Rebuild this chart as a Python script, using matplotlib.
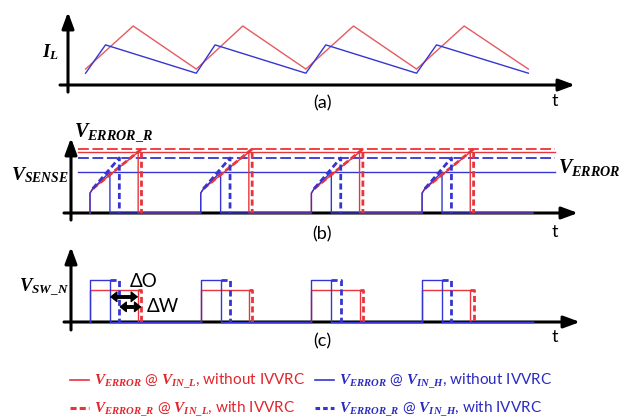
import numpy as np
import matplotlib.pyplot as plt
from matplotlib.lines import Line2D

plt.rcParams['font.family'] = ['Lato', 'DejaVu Sans']
plt.rcParams['mathtext.fontset'] = 'custom'
plt.rcParams['mathtext.it'] = 'Liberation Serif:italic:bold'
plt.rcParams['mathtext.rm'] = 'Liberation Serif:bold'
plt.rcParams['mathtext.bf'] = 'Liberation Serif:bold'

W, H = 632, 418
RED = '#e8343a'
BLUE = '#3535d2'
RED_TXT = '#e3262c'
BLUE_TXT = '#2b2bc0'

# =============================================================================
# WAVEFORM DATA (time normalised to one switching period)
# =============================================================================
PERIOD_ON = [0, 1, 2, 3]
NEXT_ON = 4.0
# turn-off delay after each turn-on
OFF_LOW = 0.435      # V_ERROR   @ V_IN_L
OFF_LOW_R = 0.465    # V_ERROR_R @ V_IN_L
OFF_HIGH = 0.18      # V_ERROR   @ V_IN_H
OFF_HIGH_R = 0.265   # V_ERROR_R @ V_IN_H

# (a) inductor current
IL_VALLEY_T = [-0.04, 0.96, 1.95, 2.95, 3.96]
IL_PEAK_T_LOW = [0.39, 1.38, 2.38, 3.38]
IL_PEAK_T_HIGH = [0.14, 1.13, 2.13, 3.13]
IL_LOW = [0.27, 1.0]     # valley, peak at V_IN_L
IL_HIGH = [0.20, 0.68]   # valley, peak at V_IN_H

# (b) current-sense ramp and error thresholds
SENSE_STEP = 0.31
SENSE_KNEE = [0.025, 0.38]
V_ERR_LOW = 0.95
V_ERR_LOW_R = 1.0
V_ERR_HIGH = 0.64
V_ERR_HIGH_R = 0.86

# (c) switch-node pulse heights
SW_HIGH = 1.0
SW_LOW = 0.76

# pixel layout helpers
T0_PX, PERIOD_PX = 90.0, 110.7


def t_px(x):
    return (x - T0_PX) / PERIOD_PX


def fig_xy(x, y):
    return x / W, 1 - y / H


def panel_axes(top, bottom, base, unit):
    ax = fig.add_axes([0, 1 - bottom / H, 1, (bottom - top) / H])
    ax.set_xlim(t_px(0), t_px(W))
    ax.set_ylim(-(bottom - base) / unit, (base - top) / unit)
    ax.axis('off')
    return ax


AX_ARROW = dict(arrowstyle='-|>,head_length=0.65,head_width=0.24', lw=2.2,
                color='black', mutation_scale=15, shrinkA=0, shrinkB=0)


def draw_frame(ax, x_axis, y_lo, y_hi, x_lo, x_hi):
    ax.annotate('', xy=(t_px(x_axis), y_hi), xytext=(t_px(x_axis), y_lo),
                arrowprops=AX_ARROW, zorder=1)
    ax.annotate('', xy=(t_px(x_hi), 0), xytext=(t_px(x_lo), 0),
                arrowprops=AX_ARROW, zorder=1)


def il_wave(valleys, peaks, lvl):
    t, y = [], []
    for v, p in zip(valleys, peaks):
        t += [v, p]
        y += [lvl[0], lvl[1]]
    t.append(valleys[-1])
    y.append(lvl[0])
    return t, y


def sense_wave(off, level):
    t, y = [], []
    for t0 in PERIOD_ON:
        t += [t0, t0, t0 + SENSE_KNEE[0], t0 + off, t0 + off]
        y += [0, SENSE_STEP, SENSE_KNEE[1], level, 0]
    t.append(NEXT_ON)
    y.append(0)
    return t, y


def sense_ramp(off, level):
    t, y = [], []
    for t0 in PERIOD_ON:
        t += [t0 + SENSE_KNEE[0], t0 + off, t0 + off, np.nan]
        y += [SENSE_KNEE[1], level, 0, np.nan]
    return t, y


def sw_wave(off, level):
    t, y = [], []
    for t0 in PERIOD_ON:
        t += [t0, t0, t0 + off, t0 + off]
        y += [0, level, level, 0]
    t.append(NEXT_ON)
    y.append(0)
    return t, y


def sw_extension(off, off_r, level):
    t, y = [], []
    for t0 in PERIOD_ON:
        t += [t0 + off, t0 + off_r, t0 + off_r, np.nan]
        y += [level, level, 0, np.nan]
    return t, y


fig = plt.figure(figsize=(W / 100, H / 100), dpi=100)

THIN = 1.0
THICK = 2.0
VDASH = (0, (2.2, 1.2))
HDASH = (0, (6, 2))

# ---- (a) inductor current ----
ax_a = panel_axes(0, 110, 85, 59)
draw_frame(ax_a, 68, -0.12, (85 - 12) / 59, 60, 575)
ax_a.plot(*il_wave(IL_VALLEY_T, IL_PEAK_T_LOW, IL_LOW), color='#e65a60', lw=THIN)
ax_a.plot(*il_wave(IL_VALLEY_T, IL_PEAK_T_HIGH, IL_HIGH), color=BLUE, lw=THIN)

# ---- (b) sense ramp vs. error thresholds ----
ax_b = panel_axes(110, 245, 213, 64)
draw_frame(ax_b, 71, -0.11, (213 - 138) / 64, 64, 578)
span = [t_px(78), t_px(555)]
ax_b.plot(span, [V_ERR_LOW_R] * 2, color=RED, lw=1.3, ls=HDASH)
ax_b.plot(span, [V_ERR_LOW] * 2, color=RED, lw=THIN)
ax_b.plot(span, [V_ERR_HIGH_R] * 2, color=BLUE, lw=1.3, ls=HDASH)
ax_b.plot(span, [V_ERR_HIGH] * 2, color=BLUE, lw=THIN)
ax_b.plot(*sense_wave(OFF_LOW, V_ERR_LOW), color=RED, lw=THIN)
ax_b.plot(*sense_wave(OFF_HIGH, V_ERR_HIGH), color=BLUE, lw=THIN)
ax_b.plot(*sense_ramp(OFF_LOW_R, V_ERR_LOW_R), color=RED, lw=THICK, ls=VDASH)
ax_b.plot(*sense_ramp(OFF_HIGH_R, V_ERR_HIGH_R), color=BLUE, lw=THICK, ls=VDASH)

# ---- (c) switch-node voltage ----
ax_c = panel_axes(245, 360, 322, 42)
draw_frame(ax_c, 71, -0.19, (322 - 247) / 42, 64, 580)
ax_c.plot(*sw_wave(OFF_LOW, SW_LOW), color=RED, lw=THIN)
ax_c.plot(*sw_wave(OFF_HIGH, SW_HIGH), color=BLUE, lw=THIN)
ax_c.plot(*sw_extension(OFF_LOW, OFF_LOW_R, SW_LOW), color=RED, lw=THICK, ls=VDASH)
ax_c.plot(*sw_extension(OFF_HIGH, OFF_HIGH_R, SW_HIGH), color=BLUE, lw=THICK, ls=VDASH)

# delta-O / delta-W markers: thick shaft plus small heads
DELTA_ARROW = dict(arrowstyle='<|-|>,head_length=0.35,head_width=0.28', lw=1.0,
                   color='black', mutation_scale=12, shrinkA=0, shrinkB=0)
for t_from, t_to, y in [(OFF_HIGH, OFF_LOW, 0.6), (OFF_HIGH_R, OFF_LOW_R, 0.36)]:
    ax_c.plot([t_from + 0.03, t_to - 0.03], [y, y], color='black', lw=2.8,
              solid_capstyle='butt', zorder=4)
    ax_c.annotate('', xy=(t_from, y), xytext=(t_to, y),
                  arrowprops=DELTA_ARROW, zorder=4)
ax_c.text(t_px(130), 0.97, 'ΔO', fontsize=13.5, va='center', ha='left')
ax_c.text(t_px(147), 0.36, 'ΔW', fontsize=13.5, va='center', ha='left')

# ---- labels ----
fig.text(*fig_xy(50, 52), r'$I_L$', fontsize=13.5, ha='center', va='center')
fig.text(*fig_xy(40, 175), r'$V_{SENSE}$', fontsize=14, ha='center', va='center')
fig.text(*fig_xy(44, 288), r'$V_{SW\_N}$', fontsize=13.5, ha='center', va='center')
fig.text(*fig_xy(74, 132), r'$V_{ERROR\_R}$', fontsize=14.5, ha='left', va='center')
fig.text(*fig_xy(558, 167), r'$V_{ERROR}$', fontsize=14.5, ha='left', va='center')

for y, s in [(103, '(a)'), (234, '(b)'), (341, '(c)')]:
    fig.text(*fig_xy(322, y), s, fontsize=13, ha='center', va='center')
for y in [101, 232, 337]:
    fig.text(*fig_xy(555, y), 't', fontsize=13, ha='center', va='center')

# ---- legend ----
handles = [
    Line2D([], [], color=RED, lw=1.2),
    Line2D([], [], color=RED, lw=2.2, ls=(0, (2, 1))),
    Line2D([], [], color=BLUE, lw=1.2),
    Line2D([], [], color=BLUE, lw=2.2, ls=(0, (1.5, 1))),
]
labels = [
    r'$V_{ERROR}$ @ $V_{IN\_L}$, without IVVRC',
    r'$V_{ERROR\_R}$ @ $V_{IN\_L}$, with IVVRC',
    r'$V_{ERROR}$ @ $V_{IN\_H}$, without IVVRC',
    r'$V_{ERROR\_R}$ @ $V_{IN\_H}$, with IVVRC',
]
fig.legend(handles, labels, ncol=2, loc='upper left', bbox_to_anchor=fig_xy(70, 372),
           frameon=False, fontsize=11, handlelength=1.25, handletextpad=0.35,
           columnspacing=0.6, labelspacing=0.55, borderpad=0, borderaxespad=0,
           labelcolor=[RED_TXT, RED_TXT, BLUE_TXT, BLUE_TXT])

fig.savefig('out.png', dpi=100)
